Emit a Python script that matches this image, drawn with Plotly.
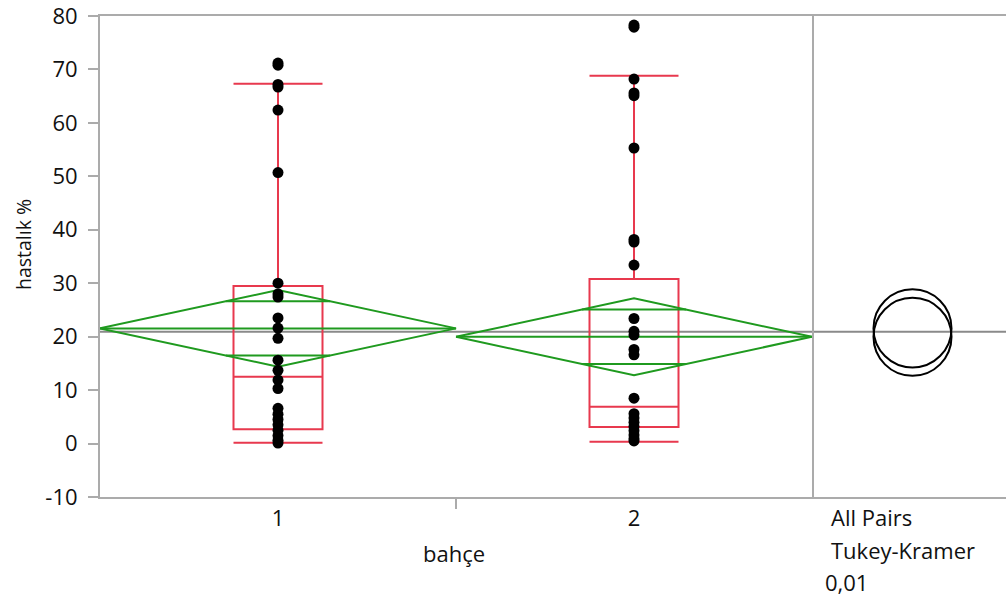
import numpy as np
import plotly.graph_objects as go

# ---------------- data ----------------
groups = [1, 2]
group_labels = ["1", "2"]

bahce1_values = [71.2, 70.8, 67.2, 66.7, 62.4, 50.7, 30.0, 28.0, 27.4, 23.5, 21.6,
                 19.7, 15.6, 13.7, 11.9, 10.3, 6.6, 5.5, 4.5, 3.5, 2.5, 1.5, 0.6, 0.1]
bahce2_values = [78.3, 77.9, 68.2, 65.6, 65.1, 55.3, 38.2, 37.7, 33.4, 23.4, 21.0,
                 20.3, 17.6, 16.6, 8.5, 5.6, 4.8, 4.0, 3.2, 2.4, 1.6, 0.9, 0.5]

means = [21.55, 19.97]          # group means (diamond centre lines)
ci_half = [7.18, 7.20]          # 99% CI half-width (diamond height)
grand_mean = 20.92
q1 = [2.66, 3.1]
medians = [12.5, 6.9]
q3 = [29.5, 30.8]
lower_whisker = [0.15, 0.34]
upper_whisker = [67.3, 68.8]
circle_radius = [7.3, 7.3]      # Tukey-Kramer comparison circles

y_ticks = [-10, 0, 10, 20, 30, 40, 50, 60, 70, 80]
y_tick_text = ["-10", "0", "10", "20", "30", "40", "50", "60", "70", "80"]
panel_notes = ["All Pairs", "Tukey-Kramer", "0,01"]

# ---------------- style ----------------
W, H = 1006, 596
ML, MR, MT, MB = 100, 0, 16, 99
PLOT_W = W - ML - MR
PLOT_H = H - MT - MB
MAIN_FRAC = (812 - ML) / PLOT_W
RED = "#E8394E"
GREEN = "#1F9A1F"
AXIS_GREY = "#ABABAB"
MEAN_GREY = "#8A8A8A"
FONT = "Open Sans"
FS = 22
TXT = "#111111"

fig = go.Figure()

# boxes
fig.add_trace(go.Box(
    x=groups, q1=q1, median=medians, q3=q3,
    lowerfence=lower_whisker, upperfence=upper_whisker,
    width=0.25, whiskerwidth=1, boxpoints=False,
    line=dict(color=RED, width=2), fillcolor="rgba(0,0,0,0)",
    showlegend=False, hoverinfo="skip"))

# means diamonds
for g, m, c in zip(groups, means, ci_half):
    d = c / np.sqrt(2)
    hw = 0.5 * (1 - d / c)
    xs = [g - 0.5, g, g + 0.5, g, g - 0.5, None,
          g - 0.5, g + 0.5, None,
          g - hw, g + hw, None,
          g - hw, g + hw]
    ys = [m, m + c, m, m - c, m, None,
          m, m, None,
          m + d, m + d, None,
          m - d, m - d]
    fig.add_trace(go.Scatter(x=xs, y=ys, mode="lines",
                             line=dict(color=GREEN, width=2),
                             showlegend=False, hoverinfo="skip"))

# points
for g, vals in zip(groups, [bahce1_values, bahce2_values]):
    fig.add_trace(go.Scatter(x=[g] * len(vals), y=vals, mode="markers",
                             marker=dict(color="black", size=11),
                             showlegend=False))

# right panel x-range so that circles are round
px_per_unit = PLOT_H / (y_ticks[-1] - y_ticks[0])
panel_px = PLOT_W * (1 - MAIN_FRAC)
centre_px = 912.5 - 812
x2_range = [-centre_px / px_per_unit, (panel_px - centre_px) / px_per_unit]

fig.add_trace(go.Scatter(x=[0], y=[grand_mean], xaxis="x2", yaxis="y",
                         mode="markers", marker=dict(opacity=0),
                         showlegend=False, hoverinfo="skip"))

shapes = [dict(type="line", xref="paper", yref="y", x0=0, x1=1,
               y0=grand_mean, y1=grand_mean,
               line=dict(color=MEAN_GREY, width=2), layer="below")]
for m, r in zip(means, circle_radius):
    shapes.append(dict(type="circle", xref="x2", yref="y",
                       x0=-r, x1=r, y0=m - r, y1=m + r,
                       line=dict(color="black", width=2)))

annotations = [
    dict(text="hastalık %", xref="paper", yref="paper",
         x=(23 - ML) / PLOT_W, y=(H - MB - 245) / PLOT_H,
         textangle=-90, showarrow=False, font=dict(size=19.5, color=TXT, family=FONT),
         xanchor="center", yanchor="middle"),
    dict(text="bahçe", xref="paper", yref="paper",
         x=(454 - ML) / PLOT_W, y=(H - MB - 553) / PLOT_H,
         showarrow=False, font=dict(size=FS, color=TXT, family=FONT),
         xanchor="center", yanchor="middle"),
]
note_pos = [(829, 517), (829, 550), (823, 582)]
for t, (px, py) in zip(panel_notes, note_pos):
    annotations.append(dict(text=t, xref="paper", yref="paper",
                            x=(px - ML) / PLOT_W, y=(H - MB - py) / PLOT_H,
                            showarrow=False, xanchor="left", yanchor="middle",
                            font=dict(size=FS, color=TXT, family=FONT)))

fig.update_layout(
    width=W, height=H,
    margin=dict(l=ML, r=MR, t=MT, b=MB),
    paper_bgcolor="white", plot_bgcolor="white",
    font=dict(family=FONT, size=FS, color=TXT),
    shapes=shapes, annotations=annotations,
    xaxis=dict(domain=[0, MAIN_FRAC], range=[0.5, 2.5],
               tickmode="array", tickvals=groups, ticktext=group_labels,
               ticks="outside", ticklen=1, tickcolor="rgba(0,0,0,0)",
               minor=dict(tickmode="array", tickvals=[1.5], ticks="outside",
                          ticklen=10, tickcolor=AXIS_GREY, tickwidth=2),
               showline=True, mirror=True, linecolor=AXIS_GREY, linewidth=2,
               showgrid=False, zeroline=False,
               tickfont=dict(size=FS, color=TXT, family=FONT)),
    xaxis2=dict(domain=[MAIN_FRAC, 1], range=x2_range, anchor="y",
                showline=True, mirror=True, linecolor=AXIS_GREY, linewidth=2,
                showticklabels=False, ticks="", showgrid=False, zeroline=False),
    yaxis=dict(range=[y_ticks[0], y_ticks[-1]], tickmode="array", tickvals=y_ticks,
               ticktext=y_tick_text, ticklabeloverflow="allow",
               ticks="outside", ticklen=10, tickwidth=2, tickcolor=AXIS_GREY,
               ticklabelstandoff=6,
               showline=True, mirror=True, linecolor=AXIS_GREY, linewidth=2,
               showgrid=False, zeroline=False,
               tickfont=dict(size=FS, color=TXT, family=FONT)),
)

fig.write_html("out.html")
